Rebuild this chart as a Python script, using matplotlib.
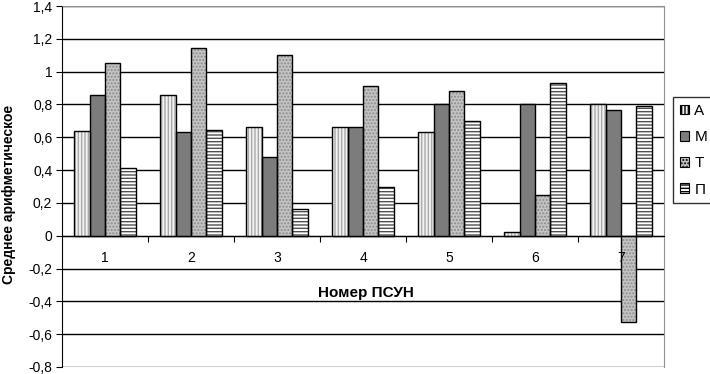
import matplotlib
matplotlib.use("Agg")
import matplotlib.pyplot as plt
from matplotlib.patches import Patch
import numpy as np

plt.rcParams['font.family'] = ['Liberation Sans', 'DejaVu Sans']

categories = ['1', '2', '3', '4', '5', '6', '7']
series_names = ['А', 'М', 'Т', 'П']
vals_A = [0.64, 0.86, 0.665, 0.665, 0.63, 0.02, 0.80]
vals_M = [0.86, 0.63, 0.477, 0.665, 0.80, 0.80, 0.767]
vals_T = [1.05, 1.145, 1.10, 0.913, 0.88, 0.25, -0.525]
vals_P = [0.415, 0.645, 0.163, 0.30, 0.70, 0.93, 0.793]
ytick_vals = [-0.8, -0.6, -0.4, -0.2, 0, 0.2, 0.4, 0.6, 0.8, 1.0, 1.2, 1.4]
ytick_labels = ['-0,8', '-0,6', '-0,4', '-0,2', '0', '0,2', '0,4', '0,6', '0,8', '1', '1,2', '1,4']
xlabel = 'Номер ПСУН'
ylabel = 'Среднее арифметическое'

W, H = 710, 374
fig = plt.figure(figsize=(W/100, H/100), dpi=100)
ax = fig.add_axes([62/W, (H-367)/H, (664-62)/W, (367-6)/H])

styles = [
    dict(face='#f2f2f2', hatch='|||||', hcol='#a8a8a8'),
    dict(face='#7c7c7c', hatch=None, hcol='#7c7c7c'),
    dict(face='#c4c4c4', hatch='.....', hcol='#8c8c8c'),
    dict(face='#ffffff', hatch='-----', hcol='#505050'),
]
all_vals = [vals_A, vals_M, vals_T, vals_P]
x = np.arange(1, len(categories) + 1)
bw = 0.18
offsets = [-1.5*bw, -0.5*bw, 0.5*bw, 1.5*bw]

ax.set_xlim(0.5, len(categories) + 0.5)
ax.set_ylim(-0.8, 1.4)
ax.set_axisbelow(False)

for yv in ytick_vals:
    ax.axhline(yv, color='black', lw=1.0, zorder=0.5)

for vals, st, off in zip(all_vals, styles, offsets):
    ax.bar(x + off, vals, bw, color=st['face'], hatch=st['hatch'],
           edgecolor=st['hcol'], linewidth=0, zorder=1)
    ax.bar(x + off, vals, bw, fill=False, edgecolor='black', linewidth=1.0, zorder=1.5)

ax.spines['top'].set_color('#909090')
ax.spines['right'].set_color('#909090')
ax.spines['bottom'].set_position(('data', 0))
ax.spines['bottom'].set_color('black')
ax.spines['left'].set_color('black')

ax.set_yticks(ytick_vals)
ax.set_yticklabels(ytick_labels, fontsize=10)
ax.tick_params(axis='y', direction='out', length=4, pad=3, color='black')

ax.set_xticks(np.arange(1.5, len(categories), 1.0))
ax.set_xticklabels([])
ax.set_xticks(x, minor=True)
ax.set_xticklabels(categories, minor=True, fontsize=10)
ax.tick_params(axis='x', which='major', direction='out', length=4)
ax.tick_params(axis='x', which='minor', length=0, pad=11)

fig.text(366/W, (H-293)/H, xlabel, ha='center', va='center',
         fontsize=11, fontweight='bold')
fig.text(9/W, (H-194)/H, ylabel, ha='center', va='center', rotation=90,
         fontsize=10, fontweight='bold')

handles = [Patch(facecolor=st['face'], edgecolor='black', hatch=st['hatch'], linewidth=0.8)
           for st in styles]
leg = fig.legend(handles, series_names, loc='upper left',
                 bbox_to_anchor=(673/W, (H-97)/H), fontsize=11,
                 frameon=True, fancybox=False, edgecolor='black',
                 handlelength=0.6, handleheight=0.6, handletextpad=0.35,
                 labelspacing=0.8, borderpad=0.45, borderaxespad=0)
leg.get_frame().set_linewidth(1.0)

fig.savefig('out.png', dpi=100)
